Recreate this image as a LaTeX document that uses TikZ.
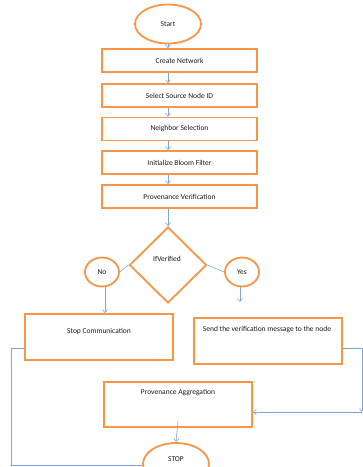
\documentclass[tikz,border=0pt]{standalone}
\usepackage{fontspec}
\setmainfont{Carlito}
\usetikzlibrary{shapes.geometric,arrows.meta}
\definecolor{org}{HTML}{F79646}
\definecolor{blu}{HTML}{7EA6D6}
\definecolor{txt}{HTML}{1A1A1A}
\begin{document}
\begin{tikzpicture}[x=1pt,y=-1pt,
  every node/.style={font=\fontsize{7.5}{9}\selectfont, text=txt},
  box/.style={draw=org, line width=1.8pt, fill=white, minimum width=155pt, minimum height=23pt, inner sep=0pt},
  bigbox/.style={draw=org, line width=1.8pt, fill=white, minimum width=148pt, minimum height=46pt, inner sep=0pt},
  oval/.style={draw=org, line width=1.8pt, fill=white, ellipse, inner sep=0pt},
  arr/.style={draw=blu, line width=0.6pt, -{Straight Barb[length=3pt,width=5pt]}},
  ln/.style={draw=blu, line width=0.6pt}
]
\useasboundingbox (0,0) rectangle (363,467);
\begin{scope}
\clip (0,0) rectangle (363,467);
\node[oval, minimum width=66pt, minimum height=39pt] (start) at (168,24) {Start};
\node[box] (b1) at (179.5,60.5) {Create Network};
\node[box] (b2) at (179.5,95.5) {Select Source Node ID};
\node[box] (b3) at (179.5,129) {Neighbor Selection};
\node[box] (b4) at (179.5,162.5) {Initialize Bloom Filter};
\node[box] (b5) at (179.5,196.5) {Provenance Verification};
\node[diamond, draw=org, line width=1.8pt, fill=white, minimum width=77pt, minimum height=76pt, inner sep=0pt] (dia) at (168,265) {};
\node (diat) at (167,259) {IfVerified};
\node[oval, minimum width=34pt, minimum height=29pt] (no) at (102,272) {No};
\node[oval, minimum width=34pt, minimum height=29pt] (yes) at (242,272) {Yes};
\node[bigbox] (stopc) at (99,337) {};
\node (stopct) at (99,332) {Stop Communication};
\node[bigbox] (send) at (268,341) {};
\node (sendt) at (267,330) {Send the verification message to the node};
\node[bigbox, minimum height=45pt] (agg) at (178,404.5) {};
\node (aggt) at (178,393) {Provenance Aggregation};
\node[oval, minimum width=66pt, minimum height=42pt] (stop) at (176,464) {};
\node (stopt) at (176,459) {STOP};

\coordinate (c1) at (11,348);
\coordinate (c2) at (11,465);
\coordinate (c3) at (362,348);
\coordinate (c4) at (362,412);
\coordinate (ye) at (240,302);
\end{scope}

\draw[arr] (start.south) -- (start.south |- b1.north);
\draw[arr] (start.south |- b1.south) -- (start.south |- b2.north);
\draw[arr] (start.south |- b2.south) -- (start.south |- b3.north);
\draw[arr] (start.south |- b3.south) -- (start.south |- b4.north);
\draw[arr] (start.south |- b4.south) -- (start.south |- b5.north);
\draw[arr] (start.south |- b5.south) -- (dia.north);
\draw[ln] (no.east) -- (dia.west);
\draw[ln] (dia.east) -- (yes.west);
\draw[arr] ([xshift=3pt]no.south) -- ([xshift=3pt]no.south |- stopc.north);
\draw[arr] ([xshift=-2pt]yes.south) -- (ye);
\draw[ln] ([yshift=-11pt]stopc.west) -- (c1) -- (c2) -- (c2 -| stop.west);
\draw[ln] ([yshift=-7pt]send.east) -- (c3);
\draw[arr] (c3) -- (c4);
\draw[arr] (c4) -- ([yshift=-7.5pt]agg.east);
\draw[arr] ([yshift=7pt]agg.south) -- (stop.north);
\end{tikzpicture}
\end{document}
